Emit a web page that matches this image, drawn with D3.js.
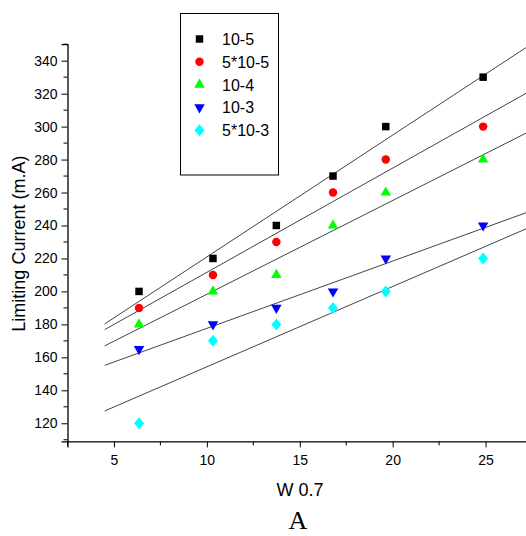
<!DOCTYPE html>
<html>
<head>
<meta charset="utf-8">
<script src="https://cdn.jsdelivr.net/npm/d3@7"></script>
<style>
  body { margin: 0; background: #fff; }
  svg { display: block; }
  text { font-family: "Liberation Sans", Arial, Helvetica, sans-serif; fill: #000; }
</style>
</head>
<body>
<svg id="chart" width="526" height="536"></svg>
<script>
// W^0.7 values where measurements were taken
const wValues = [6.35, 10.33, 13.74, 16.79, 19.63, 24.87]

// series labels (concentrations) and limiting currents (m.A)
const seriesNames = ["10-5", "5*10-5", "10-4", "10-3", "5*10-3"]
const current1e5 = [200, 220, 240, 270, 300, 330]
const current5e5 = [190, 210, 230, 260, 280, 300]
const current1e4 = [180, 200, 210, 240, 260, 280]
const current1e3 = [165, 180, 190, 200, 220, 240]
const current5e3 = [120, 170, 180, 190, 200, 220]

const xTicks = [5, 10, 15, 20, 25]
const yTicks = [120, 140, 160, 180, 200, 220, 240, 260, 280, 300, 320, 340]

// fit line range along x
const fitRange = [4.5, 27.5]

const seriesValues = [current1e5, current5e5, current1e4, current1e3, current5e3]
const colors = ["#000000", "#ff0000", "#00ff00", "#0000ff", "#00ffff"]
const shapes = ["square", "circle", "triangleUp", "triangleDown", "diamond"]

const svg = d3.select("#chart")

const x = d3.scaleLinear().domain([2.5, 27.5]).range([67.5, 532])
const y = d3.scaleLinear().domain([109, 350]).range([441.4, 44.2])

// marker paths, centred on 0,0
const markerPath = (shape) => {
    switch (shape) {
        case "square": return d3.symbol(d3.symbolSquare, 56)()
        case "circle": return d3.symbol(d3.symbolCircle, 56)()
        case "triangleUp": return d3.symbol(d3.symbolTriangle, 48)()
        case "triangleDown": return d3.symbol(d3.symbolTriangle, 48)()
        case "diamond": return "M0,-6L5,0L0,6L-5,0Z"
    }
}
const markerRotate = (shape) => shape === "triangleDown" ? " rotate(180)" : ""

// least-squares fit for each series
const fit = (xs, ys) => {
    const mx = d3.mean(xs), my = d3.mean(ys)
    let sxy = 0, sxx = 0
    xs.forEach((v, i) => { sxy += (v - mx) * (ys[i] - my); sxx += (v - mx) * (v - mx) })
    const slope = sxy / sxx
    return { slope: slope, intercept: my - slope * mx }
}

// axes
const xAxis = d3.axisBottom(x).tickValues(xTicks).tickSize(6).tickPadding(8).tickFormat(d3.format("d"))
const yAxis = d3.axisLeft(y).tickValues(yTicks).tickSize(6).tickPadding(4).tickFormat(d3.format("d"))

const gx = svg.append("g").attr("transform", `translate(0,${y(109)})`).call(xAxis)
const gy = svg.append("g").attr("transform", `translate(${x(2.5)},0)`).call(yAxis)

// minor ticks
const xMinor = d3.range(2.5, 28, 5)
const yMinor = d3.range(110, 351, 20)
gx.selectAll(".minor").data(xMinor).enter().append("line")
    .attr("x1", d => x(d)).attr("x2", d => x(d)).attr("y1", 0).attr("y2", 4)
    .attr("stroke", "#000")
gy.selectAll(".minor").data(yMinor).enter().append("line")
    .attr("y1", d => y(d)).attr("y2", d => y(d)).attr("x1", 0).attr("x2", -4)
    .attr("stroke", "#000")

svg.selectAll(".domain").attr("stroke", "#000").attr("stroke-width", 1.3)
svg.selectAll(".tick line").attr("stroke", "#000")
svg.selectAll(".tick text").style("font-size", "14px")

// fit lines
seriesValues.forEach((vals) => {
    const f = fit(wValues, vals)
    svg.append("line")
        .attr("x1", x(fitRange[0])).attr("y1", y(f.intercept + f.slope * fitRange[0]))
        .attr("x2", x(fitRange[1])).attr("y2", y(f.intercept + f.slope * fitRange[1]))
        .attr("stroke", "#444").attr("stroke-width", 1)
})

// markers
seriesValues.forEach((vals, s) => {
    svg.append("g").selectAll("path").data(vals).enter().append("path")
        .attr("d", markerPath(shapes[s]))
        .attr("transform", (d, i) => `translate(${x(wValues[i])},${y(d)})` + markerRotate(shapes[s]))
        .attr("fill", colors[s])
})

// axis titles
svg.append("text")
    .attr("transform", `translate(25,${y(229)}) rotate(-90)`)
    .attr("text-anchor", "middle")
    .style("font-size", "18px")
    .text("Limiting Current (m.A)")

svg.append("text")
    .attr("x", 300).attr("y", 496)
    .attr("text-anchor", "middle")
    .style("font-size", "18px")
    .text("W 0.7")

svg.append("text")
    .attr("x", 298).attr("y", 529)
    .attr("text-anchor", "middle")
    .style("font-family", "'Liberation Serif', 'Times New Roman', serif")
    .style("font-size", "26px")
    .text("A")

// legend
const legend = svg.append("g")
legend.append("rect")
    .attr("x", 180.5).attr("y", 13.5).attr("width", 98).attr("height", 161.5)
    .attr("fill", "#fff").attr("stroke", "#000").attr("stroke-width", 1)
seriesNames.forEach((name, s) => {
    const cy = 39 + s * 22.8
    legend.append("path")
        .attr("d", markerPath(shapes[s]))
        .attr("transform", `translate(199.5,${cy})` + markerRotate(shapes[s]))
        .attr("fill", colors[s])
    legend.append("text")
        .attr("x", 222).attr("y", cy + 6)
        .style("font-size", "16px")
        .text(name)
})
</script>
</body>
</html>
